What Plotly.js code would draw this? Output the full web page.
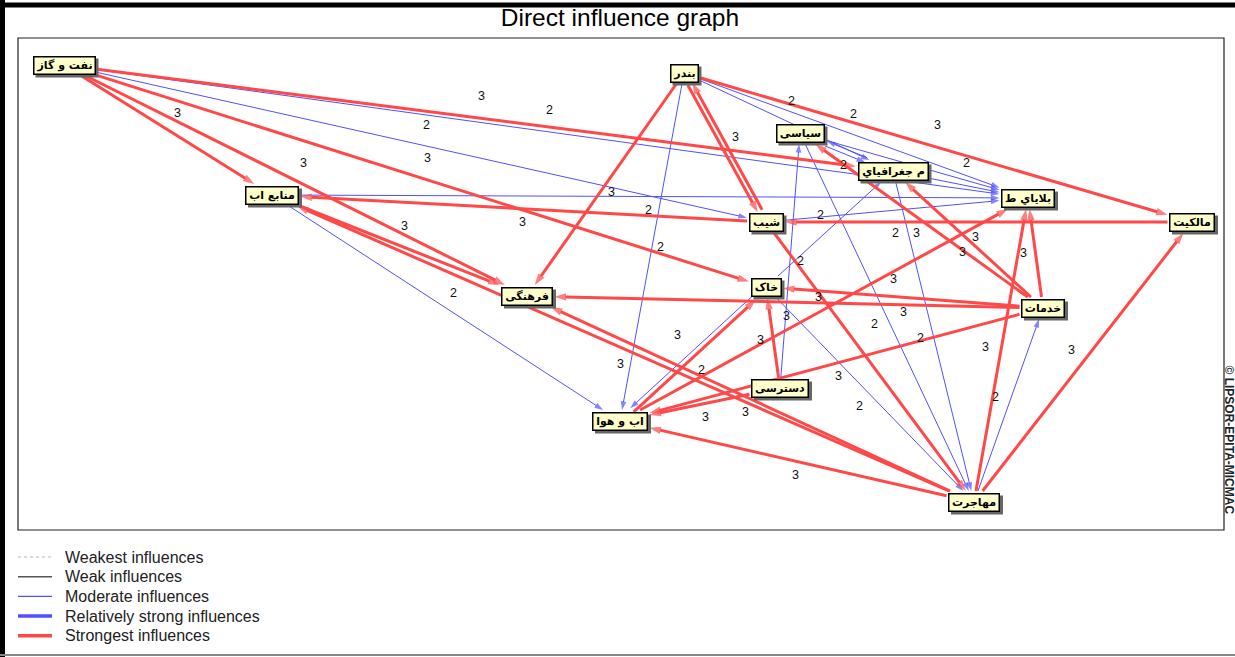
<!DOCTYPE html>
<html><head><meta charset="utf-8">
<script src="https://cdn.plot.ly/plotly-3.0.1.min.js"></script>
<style>html,body{margin:0;padding:0;background:#fff;} #chart{width:1235px;height:657px;}</style>
</head><body><div id="chart"></div>
<script>
// ---------- DATA ----------
const nodeNames = ['نفت و گاز','منابع اب','بندر','سیاسی','م جغرافياي','بلاياي ط','مالکیت','شیب','خاک','فرهنگی','خدمات','دسترسی','اب و هوا','مهاجرت'];
const nodeX = [64, 272, 684, 800, 893, 1028, 1192, 766, 766, 527, 1043, 780, 620, 974];
const nodeY = [65, 195, 73, 133, 171, 198, 222, 222, 287, 296, 308, 388, 421, 502];

// edges: from -> to, level 3 = strongest, 2 = moderate
const edgeFrom  = [0,0,0,0, 2,2,7,2, 7,6, 1,13,13, 10,10, 12,11, 11,10,12, 13,13,13,7, 10,10,10,
                   0,0,1,1,2,2,2,3,3,4,11,3,4,8,8,8,7,4,13];
const edgeTo    = [1,9,8,4, 9,7,2,6, 1,7, 9,1,9, 9,8, 8,8, 12,12,5, 12,6,5,13, 5,4,3,
                   5,7,5,12,12,5,4,5,4,3,3,13,13,4,12,13,5,5,10];
const edgeLevel = [3,3,3,3, 3,3,3,3, 3,3, 3,3,3, 3,3, 3,3, 3,3,3, 3,3,3,3, 3,3,3,
                   2,2,2,2,2,2,2,2,2,2,2,2,2,2,2,2,2,2,2];

// influence value labels
const labelVal = ['3','3','2','2','3','3','3','3','3','2','2','2','3','2','2','3','2','2','2','2','3','3','3','2','3','3','3','3','3','2','2','3','3','3','3','2','3','3','2','2','3','3','3'];
const labelX   = [177,481,549,426,303,427,404,522,611,648,660,453,735,791,853,937,843,966,820,895,916,975,962,800,1023,893,818,786,903,874,920,985,1071,677,760,701,620,838,859,995,705,745,795];
const labelY   = [113,96,110,125,163,158,226,222,192,210,247,293,137,101,114,125,165,163,215,233,233,237,252,261,253,279,297,316,312,324,338,347,350,335,340,370,364,376,406,397,417,412,475];

const legendNames = ['Weakest influences','Weak influences','Moderate influences','Relatively strong influences','Strongest influences'];

// ---------- STYLE ----------
const RED = 'rgb(255,72,72)';
const BLUE = 'rgb(80,80,255)';
const nodeFont = 'DejaVu Sans';
const nodeFontSize = 11;

const px = v => (v - 18) / 1206, py = v => (530 - v) / 492;

// measure text widths
const cv = document.createElement('canvas').getContext('2d');
cv.font = 'bold ' + nodeFontSize + 'px "' + nodeFont + '"';
const textW = nodeNames.map(t => cv.measureText(t).width);
const boxW = textW.map(w => Math.round(w + 8));
const BOXH = 19;

function clip(i, dx, dy) {
  const hw = boxW[i] / 2 + 1.5, hh = BOXH / 2 + 1.5;
  const t = Math.min(dx !== 0 ? hw / Math.abs(dx) : Infinity, dy !== 0 ? hh / Math.abs(dy) : Infinity);
  return [nodeX[i] + dx * t, nodeY[i] + dy * t];
}

const pairSet = new Set(edgeFrom.map((f, k) => f + '-' + edgeTo[k]));
const traces = [];
[2, 3].forEach(level => {
  const xs = [], ys = [], sz = [];
  edgeFrom.forEach((a, k) => {
    if (edgeLevel[k] !== level) return;
    const b = edgeTo[k];
    const dx = nodeX[b] - nodeX[a], dy = nodeY[b] - nodeY[a];
    const len = Math.hypot(dx, dy);
    const off = pairSet.has(b + '-' + a) ? 2.5 : 0;
    const nx = -dy / len * off, ny = dx / len * off;
    const t0 = clip(a, dx, dy), t1 = clip(b, -dx, -dy);
    xs.push(t0[0] + nx, t1[0] + nx, null);
    ys.push(t0[1] + ny, t1[1] + ny, null);
    sz.push(0, level === 3 ? 12 : 9, 0);
  });
  traces.push({
    type: 'scatter', mode: 'lines+markers', x: xs, y: ys, hoverinfo: 'skip', showlegend: false,
    name: level === 3 ? legendNames[4] : legendNames[2],
    line: {color: level === 3 ? RED : BLUE, width: level === 3 ? 3 : 1},
    marker: {symbol: 'arrow', angleref: 'previous', size: sz, color: level === 3 ? RED : BLUE, line: {width: 0}}
  });
});

// ---------- ANNOTATIONS & SHAPES ----------
const ann = [];
const shapes = [
  {type: 'rect', xref: 'paper', yref: 'paper', x0: 0, x1: 1, y0: 0, y1: 1, line: {color: '#222', width: 1.2}},
  {type: 'line', xref: 'paper', yref: 'paper', x0: px(2.5), x1: px(2.5), y0: py(0), y1: py(657), line: {color: '#000', width: 5}},
  {type: 'line', xref: 'paper', yref: 'paper', x0: px(0), x1: px(1235), y0: py(5), y1: py(5), line: {color: '#000', width: 5}},
  {type: 'line', xref: 'paper', yref: 'paper', x0: px(0), x1: px(1235), y0: py(655), y1: py(655), line: {color: '#888', width: 2}}
];

labelVal.forEach((v, i) => ann.push({
  x: labelX[i], y: labelY[i], xref: 'x', yref: 'y', text: v, showarrow: false,
  font: {family: 'Liberation Sans, Arial', size: 12.5, color: '#111'}
}));
nodeNames.forEach((n, i) => {
  // drop shadow
  shapes.push({type: 'rect', xref: 'x', yref: 'y', layer: 'above',
    x0: nodeX[i] - boxW[i] / 2 + 3, x1: nodeX[i] + boxW[i] / 2 + 3,
    y0: nodeY[i] - BOXH / 2 + 3, y1: nodeY[i] + BOXH / 2 + 3,
    fillcolor: '#666', line: {width: 0}});
  ann.push({x: nodeX[i], y: nodeY[i], xref: 'x', yref: 'y', text: '<b>' + n + '</b>', showarrow: false,
    width: boxW[i] - 3, height: BOXH - 3,
    font: {family: nodeFont, size: nodeFontSize, color: '#000'},
    bgcolor: '#ffffcc', bordercolor: '#000', borderwidth: 1.5, borderpad: 0});
});
ann.push({x: px(1228.5), y: py(440), xref: 'paper', yref: 'paper', xanchor: 'center', yanchor: 'middle',
  text: '<b>© LIPSOR-EPITA-MICMAC</b>', textangle: 90,
  showarrow: false, font: {family: 'Liberation Sans, Arial', size: 12, color: '#222'}});

// legend (drawn manually)
const legendStyles = [
  {color: '#b8b8b8', width: 1, dash: 'dot'},
  {color: '#555555', width: 1.5},
  {color: BLUE, width: 1.3},
  {color: BLUE, width: 3.5},
  {color: RED, width: 3.5}
];
legendNames.forEach((n, i) => {
  const yy = 557 + i * 19.7;
  shapes.push({type: 'line', xref: 'paper', yref: 'paper', x0: px(18), x1: px(52), y0: py(yy), y1: py(yy), line: legendStyles[i]});
  ann.push({x: px(63), y: py(yy), xref: 'paper', yref: 'paper', xanchor: 'left', yanchor: 'middle', text: n,
    showarrow: false, font: {family: 'Liberation Sans, Arial', size: 16, color: '#222'}});
});

const layout = {
  width: 1235, height: 657,
  margin: {l: 18, r: 11, t: 38, b: 127, pad: 0},
  paper_bgcolor: '#fff', plot_bgcolor: '#fff',
  xaxis: {range: [18, 1224], visible: false, fixedrange: true},
  yaxis: {range: [530, 38], visible: false, fixedrange: true},
  title: {text: 'Direct influence graph', x: 0.502, xanchor: 'center', y: 1 - 17 / 657, yanchor: 'middle',
    font: {family: 'Liberation Sans, Arial', size: 24.5, color: '#000'}},
  showlegend: false,
  shapes: shapes,
  annotations: ann
};
Plotly.newPlot('chart', traces, layout, {staticPlot: true, displayModeBar: false});
</script></body></html>
